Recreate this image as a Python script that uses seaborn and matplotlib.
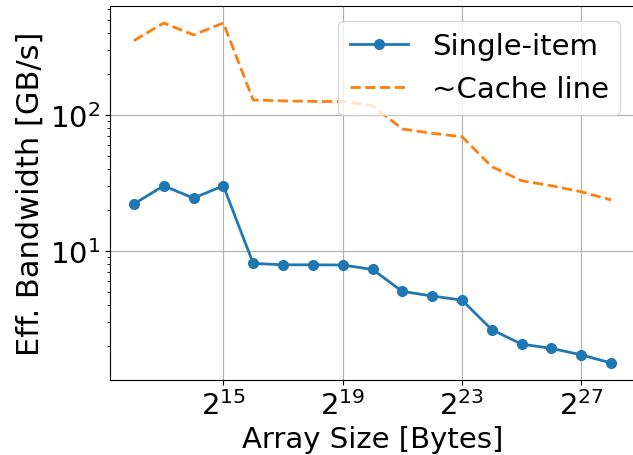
import numpy as np
import pandas as pd
import matplotlib
matplotlib.use("Agg")
import matplotlib.pyplot as plt
import seaborn as sns
from matplotlib.ticker import FixedLocator, FuncFormatter, NullLocator

sizes_exp = list(range(12, 29))
single_item = [22.1, 30.1, 24.4, 30.1, 8.07, 7.88, 7.88, 7.85, 7.28, 5.02, 4.64, 4.33, 2.62, 2.05, 1.91, 1.71, 1.49]
cache_line = [353, 476, 389, 476, 129, 127, 126, 125.4, 117, 78.9, 73.3, 69.2, 41.6, 32.8, 30.1, 27.2, 23.7]
xtick_exps = [15, 19, 23, 27]

sizes = [2 ** e for e in sizes_exp]
df = pd.DataFrame({"size": sizes, "Single-item": single_item, "~Cache line": cache_line})

plt.rcParams['font.family'] = ['DejaVu Sans']
fig = plt.figure(figsize=(6.33, 4.56), dpi=100)
ax = fig.add_axes([110 / 633, 1 - 381 / 456, (635 - 110) / 633, (381 - 7) / 456])

sns.lineplot(data=df, x="size", y="Single-item", ax=ax, color="#1f77b4", marker="o",
             markersize=8, markeredgewidth=0, linewidth=2, label="Single-item")
sns.lineplot(data=df, x="size", y="~Cache line", ax=ax, color="#ff7f0e", linestyle="--",
             linewidth=2, label="~Cache line")

ax.set_xscale("log", base=2)
ax.set_yscale("log")
ax.xaxis.set_major_locator(FixedLocator([2 ** e for e in xtick_exps]))
ax.xaxis.set_minor_locator(NullLocator())
ax.xaxis.set_major_formatter(FuncFormatter(lambda v, p: r"$\mathdefault{2^{%d}}$" % round(np.log2(v))))
ax.grid(True, which="major", color="#b0b0b0", linewidth=0.8)
ax.set_axisbelow(True)
ax.tick_params(axis="both", which="major", labelsize=21)
ax.set_xlabel("Array Size [Bytes]", fontsize=21)
ax.set_ylabel("Eff. Bandwidth [GB/s]", fontsize=22)
ax.legend(loc="upper right", fontsize=21)
for s in ax.spines.values():
    s.set_color("black")
ax.spines["right"].set_visible(False)

fig.savefig("out.png", dpi=100)
